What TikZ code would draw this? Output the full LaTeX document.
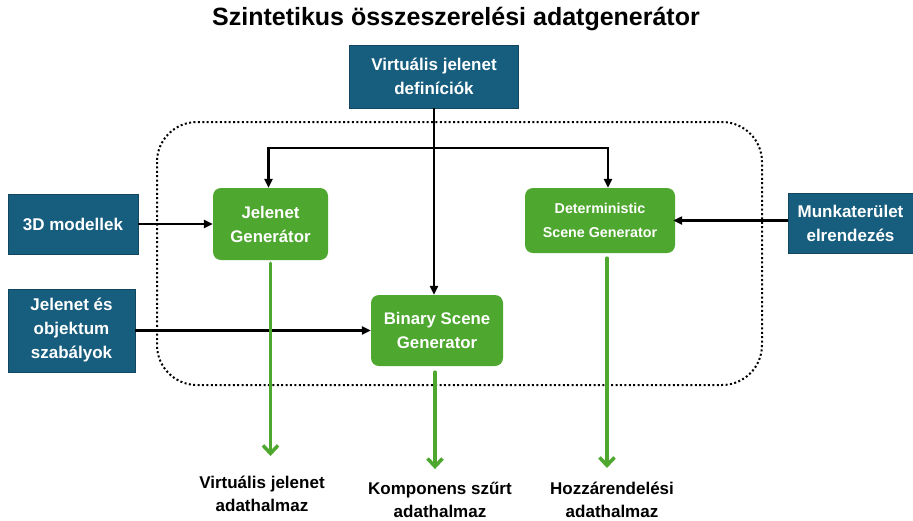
\documentclass[tikz,border=0pt]{standalone}
\usepackage{fontspec}
\setmainfont{Liberation Sans}
\usetikzlibrary{arrows.meta}

\definecolor{inblue}{HTML}{175E7E}
\definecolor{gengreen}{HTML}{4EA72E}

\tikzset{
  inbox/.style={fill=inblue, draw=inblue!75!black, text=white, align=center,
    inner sep=0pt, font=\bfseries\fontsize{17}{24}\selectfont},
  genbox/.style={fill=gengreen, rounded corners=8pt, text=white, align=center,
    inner sep=0pt, font=\bfseries\fontsize{16.8}{24}\selectfont},
  outlabel/.style={align=center, inner sep=0pt, font=\bfseries\fontsize{17}{23}\selectfont},
  feed/.style={-{Triangle[length=9pt,width=8pt]}, line width=2.2pt},
  result/.style={draw=gengreen, line width=3.5pt, line cap=round,
    -{Straight Barb[length=8pt,width=15pt,line width=3.5pt]}},
}

\begin{document}
\begin{tikzpicture}[x=1pt, y=-1pt]
  \useasboundingbox (0,0) rectangle (913,520);

  % Title
  \node[font=\bfseries\fontsize{25}{30}\selectfont] (title) at (456,19)
    {Szintetikus összeszerelési adatgenerátor};

  % Frame
  \draw[line width=2pt, dash pattern=on 2pt off 2.4pt, rounded corners=40pt]
    (157,122) rectangle (762,385);

  % Inputs
  \node[inbox, minimum width=169pt, minimum height=63pt] (defs) at (434,76.5)
    {Virtuális jelenet\\definíciók};
  \node[inbox, minimum width=130pt, minimum height=60pt] (models) at (73,224)
    {3D modellek};
  \node[inbox, minimum width=127pt, minimum height=83pt] (rules) at (71.5,330.5)
    {Jelenet és\\objektum\\szabályok};
  \node[inbox, minimum width=125pt, minimum height=60pt] (layout) at (850.5,223)
    {Munkaterület\\elrendezés};

  % Generators
  \node[genbox, minimum width=115pt, minimum height=72pt] (jgen) at (270.5,224)
    {Jelenet\\Generátor};
  \node[genbox, minimum width=150pt, minimum height=65pt,
    font=\bfseries\fontsize{14.3}{24}\selectfont] (dgen) at (600,220.5)
    {Deterministic\\Scene Generator};
  \node[genbox, minimum width=132pt, minimum height=71pt] (bgen) at (437,330.5)
    {Binary Scene\\Generator};

  % Outputs
  \node[outlabel] (vjset) at (262,494) {Virtuális jelenet\\adathalmaz};
  \node[outlabel] (ksset) at (440,500) {Komponens szűrt\\adathalmaz};
  \node[outlabel] (hzset) at (612,500) {Hozzárendelési\\adathalmaz};

  % Connectors
  \coordinate (split) at (434,148);
  \draw[feed] (defs.south) -- (defs.south |- bgen.north);
  \draw[feed] (split) -| ([xshift=-2pt]jgen.north);
  \draw[feed] (split) -| ([xshift=8pt]dgen.north);
  \draw[feed] (models.east) -- (models.east -| jgen.west);
  \draw[feed] (rules.east) -- (rules.east -| bgen.west);
  \draw[feed] (layout.west |- dgen.east) -- ([xshift=-2pt]dgen.east);

  \draw[result, shorten <=3pt, shorten >=20pt] (jgen.south) -- (jgen.south |- vjset.north);
  \draw[result, shorten <=6pt, shorten >=13pt] ([xshift=-2pt]bgen.south) -- ([xshift=-2pt]bgen.south |- ksset.north);
  \draw[result, shorten <=5pt, shorten >=14pt] ([xshift=7pt]dgen.south) -- ([xshift=7pt]dgen.south |- hzset.north);
\end{tikzpicture}
\end{document}
